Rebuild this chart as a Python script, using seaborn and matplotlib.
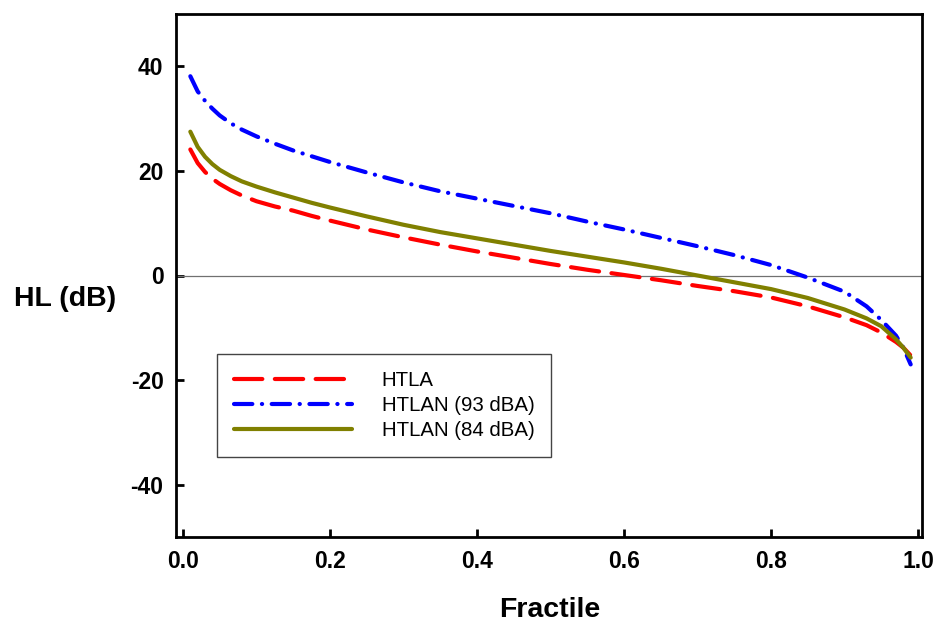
import numpy as np
import pandas as pd
import matplotlib
matplotlib.use("Agg")
import matplotlib.pyplot as plt
import seaborn as sns

fractile = [0.01, 0.02, 0.03, 0.04, 0.05, 0.065, 0.08, 0.10, 0.125, 0.15, 0.175, 0.20,
            0.25, 0.30, 0.35, 0.40, 0.45, 0.50, 0.55, 0.60, 0.65, 0.70, 0.75, 0.80,
            0.85, 0.90, 0.93, 0.95, 0.97, 0.98, 0.99]

htla = [24.1, 21.5, 19.8, 18.5, 17.5, 16.3, 15.3, 14.2, 13.2, 12.4, 11.4, 10.5,
        8.8, 7.3, 5.9, 4.6, 3.4, 2.2, 1.1, 0.1, -0.9, -2.0, -3.0, -4.2,
        -5.9, -8.0, -9.5, -10.9, -12.7, -13.8, -15.3]

htlan_93 = [38.1, 35.2, 33.4, 31.9, 30.6, 29.1, 27.9, 26.6, 25.2, 23.9, 22.8, 21.7,
            19.7, 17.8, 16.1, 14.7, 13.3, 11.9, 10.3, 8.8, 7.2, 5.6, 3.9, 2.0,
            -0.4, -3.1, -5.9, -8.5, -11.5, -13.8, -17.0]

htlan_84 = [27.5, 24.6, 22.7, 21.3, 20.2, 19.0, 18.0, 17.0, 15.9, 14.9, 13.9, 13.0,
            11.3, 9.7, 8.3, 7.1, 5.9, 4.7, 3.6, 2.5, 1.3, 0.0, -1.3, -2.6,
            -4.3, -6.5, -8.2, -9.7, -12.2, -13.8, -15.7]

labels = ["HTLA", "HTLAN (93 dBA)", "HTLAN (84 dBA)"]
x_ticks = [0.0, 0.2, 0.4, 0.6, 0.8, 1.0]
y_ticks = [-40, -20, 0, 20, 40]

sns.set_style("ticks")
plt.rcParams["font.family"] = ["Liberation Sans", "DejaVu Sans"]
plt.rcParams["text.color"] = "black"
plt.rcParams["axes.labelcolor"] = "black"
plt.rcParams["xtick.color"] = "black"
plt.rcParams["ytick.color"] = "black"

fig = plt.figure(figsize=(9.35, 6.26), dpi=100)
ax = fig.add_axes([176 / 935, 1 - 537 / 626, (922 - 176) / 935, (537 - 14) / 626])

ax.axhline(0, color="#707070", lw=0.9, zorder=1)

series = [htla, htlan_93, htlan_84]
colors = ["#ff0000", "#0000ff", "#808000"]
dash_styles = [(6.8, 3.0), (4.4, 2.3, 0.05, 2.3), None]

for vals, lab, col, ds in zip(series, labels, colors, dash_styles):
    df = pd.DataFrame({"Fractile": fractile, "HL": vals})
    sns.lineplot(data=df, x="Fractile", y="HL", ax=ax, color=col, lw=3.0,
                 label=lab, legend=False, zorder=3)
    ln = ax.lines[-1]
    if ds is not None:
        ln.set_dashes(ds)
        ln.set_dash_capstyle("round")
    ln.set_solid_capstyle("round")
    ln.set_solid_joinstyle("round")
    ln.set_dash_joinstyle("round")

ax.set_xlim(-0.0095, 1.0054)
ax.set_ylim(-50, 50)
ax.set_xticks(x_ticks)
ax.set_xticklabels([f"{t:.1f}" for t in x_ticks])
ax.set_yticks(y_ticks)
ax.set_yticklabels([str(t) for t in y_ticks])

for s in ax.spines.values():
    s.set_linewidth(2.0)
    s.set_color("black")
    s.set_visible(True)

ax.tick_params(direction="in", length=5.5, width=2.0, labelsize=16.5, pad=9,
               colors="black")
for t in ax.get_xticklabels() + ax.get_yticklabels():
    t.set_fontweight("bold")

ax.set_xlabel("Fractile", fontsize=20.5, fontweight="bold", color="black")
ax.xaxis.set_label_coords(0.501, -0.14)
ax.xaxis.label.set_va("center")
ax.set_ylabel("HL (dB)", fontsize=20.5, fontweight="bold", rotation=0, color="black")
ax.yaxis.set_label_coords(-0.149, 0.455)
ax.yaxis.label.set_va("center")
ax.yaxis.label.set_ha("center")

handles = ax.lines[1:4]
leg = ax.legend(handles=handles, labels=labels, loc="lower left",
                bbox_to_anchor=(0.055, 0.153), borderaxespad=0,
                fontsize=14.7, handlelength=5.8, handletextpad=1.45,
                borderpad=0.82, labelspacing=0.3, fancybox=False,
                framealpha=1, edgecolor="#444444")
leg.get_frame().set_linewidth(1.0)
for t in leg.get_texts():
    t.set_color("black")

fig.savefig("out.png", dpi=100)
